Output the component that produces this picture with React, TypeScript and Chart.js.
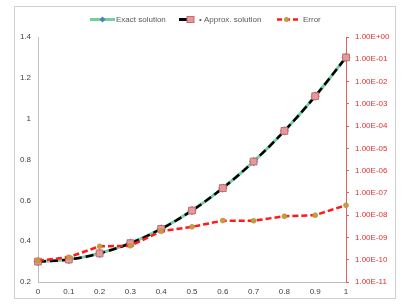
import React, { useEffect, useRef } from "react";
import { Chart, registerables } from "chart.js";

Chart.register(...registerables);

const xLabels = ["0", "0.1", "0.2", "0.3", "0.4", "0.5", "0.6", "0.7", "0.8", "0.9", "1"];
const exactSolution = [0.3, 0.31, 0.34, 0.39, 0.46, 0.55, 0.66, 0.79, 0.94, 1.11, 1.3];
const approxSolution = [0.3, 0.31, 0.34, 0.39, 0.46, 0.55, 0.66, 0.79, 0.94, 1.11, 1.3];
const errorValues = [9e-11, 1.3e-10, 4e-10, 4.2e-10, 1.9e-9, 3e-9, 5.7e-9, 5.6e-9, 9e-9, 1e-8, 2.8e-8];
const rightTicks = [1, 1e-1, 1e-2, 1e-3, 1e-4, 1e-5, 1e-6, 1e-7, 1e-8, 1e-9, 1e-10, 1e-11];
const seriesNames = ["Exact solution", "• Approx. solution", "Error"];

const FONT = "'Liberation Sans', Arial, sans-serif";
const GREEN = "#74cfa2";
const BLACK = "#000000";
const RED = "#ff1a1a";
const PINK = "#e39a9a";
const PINK_BORDER = "#c86a6a";
const ORANGE = "#c99a3e";
const BLUE = "#4f81bd";

function fmtExp(v: number): string {
  const e = Math.round(Math.log10(v));
  const sign = e < 0 ? "-" : "+";
  const abs = Math.abs(e);
  return "1.00E" + sign + (abs < 10 ? "0" + abs : String(abs));
}

const legendPlugin = {
  id: "customLegend",
  afterDraw(chart: any) {
    const ctx = chart.ctx;
    const y = 19.5;
    ctx.save();
    ctx.font = "8px " + FONT;
    ctx.textBaseline = "middle";
    ctx.fillStyle = "#595959";
    // item 1
    ctx.strokeStyle = GREEN;
    ctx.lineWidth = 3;
    ctx.beginPath();
    ctx.moveTo(90, y);
    ctx.lineTo(115, y);
    ctx.stroke();
    ctx.fillStyle = BLUE;
    ctx.beginPath();
    ctx.moveTo(102.5, y - 3);
    ctx.lineTo(105.5, y);
    ctx.lineTo(102.5, y + 3);
    ctx.lineTo(99.5, y);
    ctx.closePath();
    ctx.fill();
    ctx.fillStyle = "#595959";
    ctx.fillText(seriesNames[0], 116, y);
    // item 2
    ctx.strokeStyle = BLACK;
    ctx.lineWidth = 3;
    ctx.beginPath();
    ctx.moveTo(179, y);
    ctx.lineTo(194, y);
    ctx.stroke();
    ctx.fillStyle = PINK;
    ctx.strokeStyle = PINK_BORDER;
    ctx.lineWidth = 1;
    ctx.fillRect(187, y - 3, 7, 6);
    ctx.strokeRect(187, y - 3, 7, 6);
    ctx.fillStyle = "#595959";
    ctx.fillText(seriesNames[1], 199, y);
    // item 3
    ctx.strokeStyle = RED;
    ctx.lineWidth = 2.5;
    ctx.setLineDash([5, 3]);
    ctx.beginPath();
    ctx.moveTo(277, y);
    ctx.lineTo(298, y);
    ctx.stroke();
    ctx.setLineDash([]);
    ctx.fillStyle = ORANGE;
    ctx.beginPath();
    ctx.arc(286.5, y, 2.5, 0, Math.PI * 2);
    ctx.fill();
    ctx.fillStyle = "#595959";
    ctx.fillText(seriesNames[2], 303, y);
    ctx.restore();
  },
};

export default function App() {
  const ref = useRef<HTMLCanvasElement | null>(null);

  useEffect(() => {
    if (!ref.current) return;
    const chart = new Chart(ref.current, {
      type: "line",
      data: {
        labels: xLabels,
        datasets: [
          {
            label: "Error",
            data: errorValues,
            yAxisID: "y2",
            borderColor: RED,
            borderWidth: 2.5,
            borderDash: [6, 3],
            pointStyle: "circle",
            pointRadius: 2.5,
            pointBackgroundColor: ORANGE,
            pointBorderColor: "#b88a35",
            pointBorderWidth: 0.5,
            tension: 0,
            order: 0,
          },
          {
            label: "Approx. solution",
            data: approxSolution,
            yAxisID: "y",
            borderColor: BLACK,
            borderWidth: 2.5,
            borderDash: [8, 4],
            pointStyle: "rect",
            pointRadius: 4.8,
            pointBackgroundColor: PINK,
            pointBorderColor: PINK_BORDER,
            pointBorderWidth: 1,
            cubicInterpolationMode: "monotone",
            order: 1,
          },
          {
            label: "Exact solution",
            data: exactSolution,
            yAxisID: "y",
            borderColor: GREEN,
            borderWidth: 3,
            pointStyle: "rectRot",
            pointRadius: 2.5,
            pointBackgroundColor: BLUE,
            pointBorderColor: BLUE,
            cubicInterpolationMode: "monotone",
            order: 2,
          },
        ],
      },
      options: {
        animation: false,
        responsive: false,
        maintainAspectRatio: false,
        layout: { padding: { left: 0, right: 0, top: 37, bottom: 0 } },
        plugins: {
          legend: { display: false },
          tooltip: { enabled: false },
        },
        scales: {
          x: {
            type: "category",
            offset: false,
            grid: { display: true, drawOnChartArea: false, drawTicks: false, tickLength: 0 },
            border: { display: true, color: "#bfbfbf", width: 1 },
            ticks: {
              color: "#404040",
              font: { family: FONT, size: 8 },
              padding: 5,
              maxRotation: 0,
              autoSkip: false,
            },
            afterFit: (s: any) => {
              s.height = 26;
            },
          },
          y: {
            type: "linear",
            position: "left",
            min: 0.2,
            max: 1.4,
            grid: { display: true, drawOnChartArea: false, drawTicks: false, tickLength: 0 },
            border: { display: true, color: "#bfbfbf", width: 1 },
            ticks: {
              stepSize: 0.2,
              color: "#404040",
              font: { family: FONT, size: 8 },
              padding: 7,
              callback: (v: any) => String(Math.round(Number(v) * 10) / 10),
            },
            afterFit: (s: any) => {
              s.width = 38;
            },
          },
          y2: {
            type: "logarithmic",
            position: "right",
            min: 1e-11,
            max: 1,
            grid: { display: true, drawOnChartArea: false, drawTicks: true, tickLength: 3, color: "#e06060" },
            border: { display: true, color: "#e06060", width: 1 },
            ticks: {
              color: "#e03030",
              font: { family: FONT, size: 8 },
              padding: 6,
              autoSkip: false,
              callback: (v: any) => fmtExp(Number(v)),
            },
            afterBuildTicks: (s: any) => {
              s.ticks = rightTicks.map((v) => ({ value: v }));
            },
            afterFit: (s: any) => {
              s.width = 72;
            },
          },
        },
      },
      plugins: [legendPlugin],
    });
    return () => chart.destroy();
  }, []);

  return (
    <div style={{ position: "fixed", left: 0, top: 0, width: 418, height: 308, background: "#fff" }}>
      <div
        style={{
          position: "absolute",
          left: 14,
          top: 6,
          width: 380,
          height: 291,
          border: "1px solid #d0d0d0",
        }}
      />
      <canvas
        ref={ref}
        width={418}
        height={308}
        style={{ position: "absolute", left: 0, top: 0, width: 418, height: 308 }}
      />
    </div>
  );
}
